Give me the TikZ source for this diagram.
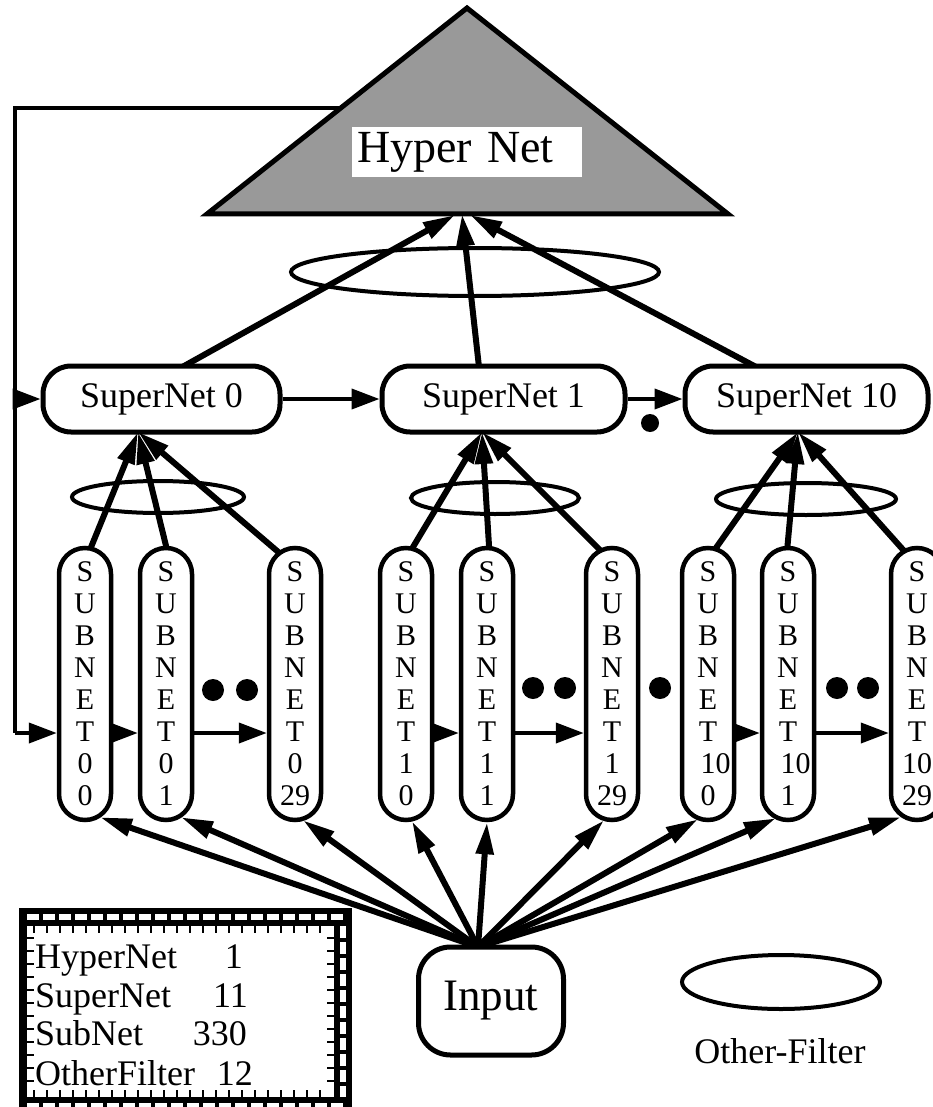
\documentclass[tikz,border=0pt]{standalone}
\usepackage{fontspec}
\setmainfont{Liberation Serif}
\usetikzlibrary{arrows.meta,calc,backgrounds}

\begin{document}
\begin{tikzpicture}[x=1pt,y=-1pt,
  supbox/.style={draw, line width=5pt, rounded corners=28pt, fill=white,
    minimum width=#1, minimum height=66pt, inner sep=0pt,
    font=\fontsize{36}{40}\selectfont},
  subpill/.style={draw, line width=4.5pt, rounded corners=26pt, fill=white,
    minimum width=52pt, minimum height=272pt, inner sep=0pt, align=center,
    font=\fontsize{30}{32}\selectfont},
  filterring/.style={draw, line width=4pt},
  dotmark/.style={fill=black},
  thickarrow/.style={line width=6pt, -{Triangle[length=32pt,width=17pt]}},
  chainarrow/.style={line width=4pt, -{Triangle[length=28pt,width=20pt]}},
  legendtext/.style={font=\fontsize{36}{40}\selectfont, inner sep=0pt},
]
\useasboundingbox (0,0) rectangle (933,1107);

% ---------- Hyper Net ----------
\coordinate (hapex) at (467,8);
\coordinate (hl) at (207,214);
\coordinate (hr) at (728,214);
\draw[line width=5pt, fill=black!40, line join=miter] (hl) -- (hapex) -- (hr) -- cycle;
\node[fill=white, inner sep=0pt, minimum width=230pt, minimum height=50pt,
      text width=220pt, align=left, font=\fontsize{46}{50}\selectfont]
      (hyper) at (467,152) {Hyper Net};

% ---------- SuperNets ----------
\node[supbox=237pt] (sn0) at (161.5,399) {SuperNet 0};
\node[supbox=243pt] (sn1) at (503.5,399) {SuperNet 1};
\node[supbox=243pt] (sn10) at (806.5,399) {SuperNet 10};

% ---------- SubNets ----------
\node[subpill] (s00)   at (85,684)  {S\\U\\B\\N\\E\\T\\0\\0};
\node[subpill] (s01)   at (166,684) {S\\U\\B\\N\\E\\T\\0\\1};
\node[subpill] (s029)  at (295,684) {S\\U\\B\\N\\E\\T\\0\\29};
\node[subpill] (s10)   at (406,684) {S\\U\\B\\N\\E\\T\\1\\0};
\node[subpill] (s11)   at (487,684) {S\\U\\B\\N\\E\\T\\1\\1};
\node[subpill] (s129)  at (612,684) {S\\U\\B\\N\\E\\T\\1\\29};
\node[subpill] (s100)  at (708,684) {S\\U\\B\\N\\E\\T\\1\rlap{0}\\0};
\node[subpill] (s101)  at (788,684) {S\\U\\B\\N\\E\\T\\1\rlap{0}\\1};
\node[subpill] (s1029) at (917,684) {S\\U\\B\\N\\E\\T\\10\\29};

% ---------- Input ----------
\node[draw, line width=5pt, rounded corners=32pt, fill=white, minimum width=145pt,
      minimum height=108pt, inner sep=0pt, font=\fontsize{45}{50}\selectfont]
      (inp) at (491,1001) {Input};

% ---------- Other filters ----------
\draw[filterring] (475,272) ellipse [x radius=184, y radius=24];
\draw[filterring] (158,497) ellipse [x radius=86, y radius=16];
\draw[filterring] (495,498) ellipse [x radius=84, y radius=16];
\draw[filterring] (806,499) ellipse [x radius=90, y radius=16];

% legend ring
\draw[filterring] (781,982) ellipse [x radius=99, y radius=27];
\node[font=\fontsize{36}{40}\selectfont, inner sep=0pt] (oflabel) at (780,1051) {Other-Filter};

% ---------- ellipsis dots ----------
\fill[dotmark] (213,690) circle (11pt);
\fill[dotmark] (247,690) circle (11pt);
\fill[dotmark] (533,688) circle (11pt);
\fill[dotmark] (565,688) circle (11pt);
\fill[dotmark] (660,688) circle (11pt);
\fill[dotmark] (837,688) circle (11pt);
\fill[dotmark] (868,688) circle (11pt);
\fill[dotmark] (650,423) circle (9pt);

% ---------- connectors ----------
\coordinate (row) at (0,733);
\coordinate (c0) at (138,432);
\coordinate (c1) at (482,432);
\coordinate (c10) at (798,432);
\coordinate (src) at (478,947);
\coordinate (fbtop) at (360,108);
\coordinate (fbcorner) at (15,108);
\coordinate (fbsn) at (15,399);
\coordinate (fbsub) at (15,733);

\begin{scope}[on background layer]
  % feedback from the Hyper Net
  \draw[line width=4.5pt] (fbtop) -- (fbcorner) -- (fbsub);
  \draw[chainarrow] (fbsub) -- (s00.west |- row);
  \draw[chainarrow] (fbsn) -- (sn0.west);

  % SuperNets up to the Hyper Net
  \draw[thickarrow] (150,385) -- (455,215);
  \draw[thickarrow] (481,385) -- (462,214);
  \draw[thickarrow] (790,385) -- (470,215);

  % SuperNet chain
  \draw[chainarrow] (sn0.east) -- (sn1.west);
  \draw[chainarrow] (sn1.east) -- (sn10.west);

  % SubNets up to their SuperNets
  \draw[thickarrow] (85,562) -- (c0);
  \draw[thickarrow] (170,562) -- (c0);
  \draw[thickarrow] (290,562) -- (c0);
  \draw[thickarrow] (404,562) -- (c1);
  \draw[thickarrow] (490,562) -- (c1);
  \draw[thickarrow] (612,562) -- (c1);
  \draw[thickarrow] (706,562) -- (c10);
  \draw[thickarrow] (786,562) -- (c10);
  \draw[thickarrow] (914,562) -- (c10);

  % SubNet chains
  \draw[chainarrow] (s00.east |- row) -- (s01.west |- row);
  \draw[chainarrow] (s01.east |- row) -- (s029.west |- row);
  \draw[chainarrow] (s10.east |- row) -- (s11.west |- row);
  \draw[chainarrow] (s11.east |- row) -- (s129.west |- row);
  \draw[chainarrow] (s100.east |- row) -- (s101.west |- row);
  \draw[chainarrow] (s101.east |- row) -- (s1029.west |- row);

  % Input fan-out
  \draw[thickarrow] (src) -- ($(s00.south)+(15,-5)$);
  \draw[thickarrow] (src) -- ($(s01.south)+(15,-5)$);
  \draw[thickarrow] (src) -- ($(s029.south)+(8,-2)$);
  \draw[thickarrow] (src) -- ($(s10.south)+(6,-1)$);
  \draw[thickarrow] (src) -- (s11.south);
  \draw[thickarrow] (src) -- ($(s129.south)+(-8,-2)$);
  \draw[thickarrow] (src) -- ($(s100.south)+(-10,-3)$);
  \draw[thickarrow] (src) -- ($(s101.south)+(-12,-4)$);
  \draw[thickarrow] (src) -- ($(s1029.south)+(-16,-5)$);
\end{scope}

% ---------- legend box ----------
\fill (19,908) rectangle (352,926);
\fill (19,1097) rectangle (352,1115);
\fill (334,908) rectangle (352,1115);
\fill (19,908) rectangle (27,1115);
\draw[white, line width=6pt, dash pattern=on 12pt off 4pt] (27,917) -- (344,917);
\draw[white, line width=6pt, dash pattern=on 12pt off 4pt] (27,1106) -- (344,1106);
\draw[white, line width=6pt, dash pattern=on 12pt off 4pt] (343,926) -- (343,1097);
\foreach \tx in {34,47,...,330} {
  \draw[line width=2pt] (\tx,926) -- (\tx,933);
  \draw[line width=2pt] (\tx,1090) -- (\tx,1097);
}
\foreach \ty in {938,951,...,1090} {
  \draw[line width=2pt] (27,\ty) -- (34,\ty);
  \draw[line width=2pt] (327,\ty) -- (334,\ty);
}
\node[legendtext, anchor=base west] (lh) at (35,968) {HyperNet};
\node[legendtext, anchor=base west] (ls) at (35,1007) {SuperNet};
\node[legendtext, anchor=base west] (lb) at (35,1045) {SubNet};
\node[legendtext, anchor=base west] (lo) at (35,1085) {OtherFilter};
\node[legendtext, anchor=base east] (nh) at (243,968) {1};
\node[legendtext, anchor=base east] (ns) at (248,1007) {11};
\node[legendtext, anchor=base east] (nb) at (247,1045) {330};
\node[legendtext, anchor=base east] (no) at (253,1085) {12};
\end{tikzpicture}
\end{document}
